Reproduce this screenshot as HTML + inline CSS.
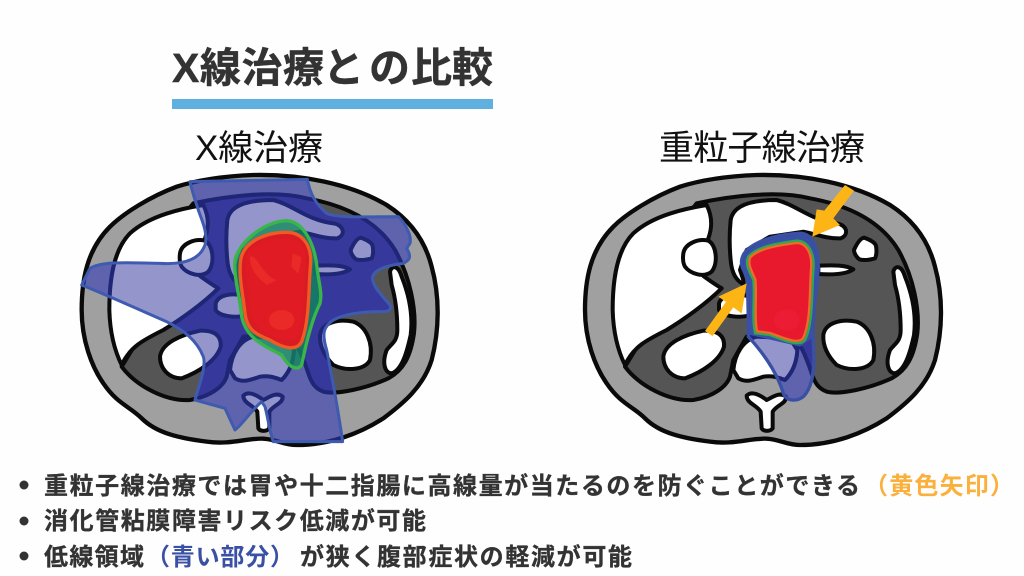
<!DOCTYPE html>
<html lang="ja">
<head>
<meta charset="utf-8">
<title>X線治療との比較</title>
<style>
html,body{margin:0;padding:0;background:#fefefe;width:1024px;height:576px;overflow:hidden}
svg{display:block}
.jp{font-family:"Liberation Sans","Noto Sans CJK JP",sans-serif}
.a-o{fill:var(--g);stroke:var(--k);stroke-width:13}
.a-d{fill:var(--d);stroke:var(--k);stroke-width:12;stroke-linejoin:round}
.a-w{fill:var(--w);stroke:var(--k);stroke-width:12;stroke-linejoin:round}
.n{--g:#a0a0a0;--d:#555555;--w:#ffffff;--k:#0a0a0a}
.o{--g:#5f62ac;--d:#36399b;--w:#9496cb;--k:#1e2675}
</style>
</head>
<body>
<svg xmlns="http://www.w3.org/2000/svg" width="1024" height="576" viewBox="0 0 1024 576">
<defs>
<g id="body">
  <path class="a-o" d="M560,15C700,12 850,40 960,105C1030,150 1075,210 1095,290C1120,380 1118,480 1095,570C1070,650 1010,700 950,745C880,790 790,825 690,825C650,825 630,808 590,806C540,804 490,825 420,815C340,805 270,790 225,745C190,710 150,700 110,640C75,590 45,510 45,420C45,330 60,240 130,170C170,130 250,80 330,50C400,28 480,18 560,15Z"/>
  <path class="a-d" d="M380,100C480,78 620,60 720,85C830,105 930,150 985,240C1030,320 1050,420 1042,490C1032,560 1010,600 965,625C900,655 810,675 770,665C745,655 735,640 725,610C715,580 705,555 695,535L640,495L530,500L490,570L480,620C470,650 430,680 370,690C300,695 210,650 165,590L220,500L300,200Z"/>
  <path class="a-w" d="M410,105C350,115 250,135 190,190C140,240 128,330 128,420C130,490 145,545 165,585C190,530 230,510 290,480C340,450 410,400 455,355C430,340 410,325 400,318L420,290L415,205C428,170 425,135 410,105Z"/>
  <path class="a-w" d="M340,250C345,220 385,205 415,212C440,225 445,280 425,305C400,325 360,310 345,290C338,278 338,265 340,250Z"/>
  <path class="a-w" d="M482,150C490,100 560,90 620,90C680,105 720,150 800,160C832,165 838,195 812,205C770,207 730,190 700,185L600,200L530,240L510,300L525,345C500,335 485,310 482,270C478,230 478,190 482,150Z"/>
  <path class="a-w" d="M447,400C455,375 490,370 520,375L540,380L540,435C510,445 460,440 447,420Z"/>
  <path class="a-w" d="M745,287C790,285 830,285 850,298C830,312 790,315 745,312Z"/>
  <path class="a-w" d="M852,240C860,222 870,205 882,203C895,208 915,215 918,228C920,240 920,255 915,265C900,270 880,272 868,268C860,262 852,250 852,240Z"/>
  <path class="a-w" d="M970,305C975,285 995,285 1005,320C1025,370 1040,430 1032,495C1020,550 1005,600 975,610C955,610 945,580 960,540C975,520 992,515 992,480C992,430 985,380 975,345Z"/>
  <path class="a-w" d="M280,560C285,520 340,495 400,482C440,480 465,495 462,530C450,570 400,605 345,625C305,625 280,595 280,560Z"/>
  <path class="a-w" d="M760,495C765,460 810,445 860,455C900,470 920,520 910,570C895,600 840,605 800,585C775,560 758,530 760,495Z"/>
  <path class="a-w" d="M490,600C495,550 520,510 560,500L660,505L682,540C680,580 665,610 645,630C630,625 610,615 580,620C555,628 530,640 505,625Z"/>
  <path class="a-w" d="M530,677C545,662 570,675 590,690C610,680 630,665 648,680C650,700 620,705 608,725L608,775C600,785 580,785 575,775L572,725C560,705 530,700 530,677Z"/>
</g>
<clipPath id="cl"><path d="M360,35L712,28C720,70 735,100 770,130C800,145 900,140 985,140C1010,165 1025,200 1020,220L1010,235C1025,260 1020,270 1000,280C960,285 915,295 908,320C905,345 930,370 960,405C965,420 960,425 930,425C880,425 830,430 790,450C760,470 755,490 770,540C790,640 810,760 818,815L610,815C600,790 595,750 585,710L575,695C545,720 520,760 495,780L465,715L375,690C385,650 410,590 400,560C380,510 340,480 290,455C210,420 110,375 35,345L60,295C100,270 200,280 270,280C350,285 390,265 405,225C415,190 395,150 385,120C375,90 365,60 360,35Z"/></clipPath>
<clipPath id="cr"><path d="M515,270C520,230 590,195 690,190C730,190 745,240 745,290C740,370 725,450 730,520C735,590 730,650 700,680C680,695 650,695 640,670C625,620 590,560 535,500C535,440 535,380 530,320C520,300 512,285 515,270Z"/></clipPath>
</defs>

<rect width="1024" height="576" fill="#fefefe"/>

<g class="jp" font-size="41" font-weight="700" fill="#333333" stroke="#333333" stroke-width=".4">
  <text x="172" y="82" textLength="152">X線治療</text>
  <text x="323" y="82">と</text>
  <text x="369" y="82">の</text>
  <text x="411" y="82" textLength="82">比較</text>
</g>
<rect x="172" y="99" width="321" height="10" fill="#5fb0de"/>

<text class="jp" x="195" y="160" font-size="35" fill="#111111" textLength="128">X線治療</text>
<text class="jp" x="659" y="160" font-size="35" fill="#111111" textLength="206">重粒子線治療</text>

<!-- left -->
<g transform="translate(70,170) scale(.33333)">
  <g class="n" transform="translate(-10,0)"><use href="#body"/></g>
  <g clip-path="url(#cl)"><g class="o" transform="translate(-10,0)"><use href="#body"/></g></g>
  <path d="M360,35L712,28C720,70 735,100 770,130C800,145 900,140 985,140C1010,165 1025,200 1020,220L1010,235C1025,260 1020,270 1000,280C960,285 915,295 908,320C905,345 930,370 960,405C965,420 960,425 930,425C880,425 830,430 790,450C760,470 755,490 770,540C790,640 810,760 818,815L610,815C600,790 595,750 585,710L575,695C545,720 520,760 495,780L465,715L375,690C385,650 410,590 400,560C380,510 340,480 290,455C210,420 110,375 35,345L60,295C100,270 200,280 270,280C350,285 390,265 405,225C415,190 395,150 385,120C375,90 365,60 360,35Z" fill="none" stroke="#3f5bb0" stroke-width="9" stroke-linejoin="round"/>
  <path d="M495,270C510,210 590,152 650,152C700,155 735,220 742,300C747,340 757,370 750,400C730,440 712,500 695,585C680,605 655,590 635,555C590,530 530,510 515,440C510,380 490,320 495,270Z" fill="#0f8a5a" fill-opacity=".75" stroke="#39b54a" stroke-width="10"/>
  <path d="M512,270C520,210 600,185 650,187C700,187 725,230 722,280C715,350 720,450 695,515C680,545 640,535 600,510C560,495 530,480 525,430C520,380 505,320 512,270Z" fill="#d91c24" stroke="#f15a24" stroke-width="10"/>
  <path d="M530,260C550,215 610,205 650,205C695,210 712,240 706,285C700,350 705,440 682,505C660,520 620,505 590,490C555,470 540,440 538,400C535,350 525,310 530,260Z" fill="#e01b24"/>
  <ellipse cx="635" cy="450" rx="38" ry="30" fill="#ea2a27"/>
  <path d="M540,260C560,250 580,320 620,330L590,345C560,320 540,300 540,260Z" fill="#ea2a27"/>
  <path d="M668,250L695,262L685,312L664,290Z" fill="#ea2a27"/>
</g>

<!-- right -->
<g transform="translate(570,170) scale(.33333)">
  <g class="n"><use href="#body"/></g>
  <g clip-path="url(#cr)"><g class="o"><use href="#body"/></g></g>
  <path d="M515,270C520,230 590,195 690,190C730,190 745,240 745,290C740,370 725,450 730,520C735,590 730,650 700,680C680,695 650,695 640,670C625,620 590,560 535,500C535,440 535,380 530,320C520,300 512,285 515,270Z" fill="none" stroke="#3a50a5" stroke-width="10" stroke-linejoin="round"/>
  <path d="M520,270C525,235 590,200 690,195C725,195 740,240 740,290C735,370 722,440 725,505L690,530L540,495C540,440 540,380 535,320C525,300 518,285 520,270Z" fill="#3a50a5"/>
  <path d="M535,260C560,230 620,220 680,212C715,212 735,250 730,300C725,370 730,460 705,510C690,530 650,515 600,495L555,490C545,440 555,380 550,330C535,300 525,280 535,260Z" fill="#e8192c" stroke="#2fa84f" stroke-width="7"/>
  <path d="M541,262C565,236 622,226 680,219C710,219 728,252 723,300C718,370 723,455 699,505C686,522 650,508 600,489L561,484C552,440 561,380 556,328C542,298 533,280 541,262Z" fill="none" stroke="#ee6a2a" stroke-width="7"/>
  <ellipse cx="650" cy="450" rx="38" ry="32" fill="#ec1c35"/>
  <path d="M852,62L825,45L763,122L740,118L727,200L810,165L790,145Z" fill="#fdb515"/>
  <path d="M405,483L428,498L490,412L515,430L530,340L445,380L468,396Z" fill="#fdb515"/>
</g>

<circle cx="24" cy="485" r="4.5" fill="#333"/>
<circle cx="24" cy="521" r="4.5" fill="#333"/>
<circle cx="24" cy="556" r="4.5" fill="#333"/>

<g class="jp" font-size="24" font-weight="700" fill="#333333" stroke-width=".3">
  <text x="44" y="494" textLength="816" stroke="#333333">重粒子線治療では胃や十二指腸に高線量が当たるのを防ぐことができる</text>
  <text x="864" y="494" textLength="150" fill="#fbb03b">（黄色矢印）</text>
  <text x="44" y="529" textLength="382" stroke="#333333">消化管粘膜障害リスク低減が可能</text>
  <text x="44" y="565" textLength="100" stroke="#333333">低線領域</text>
  <text x="146" y="565" textLength="148" fill="#3a50a5">（青い部分）</text>
  <text x="300" y="565" textLength="332" stroke="#333333">が狭く腹部症状の軽減が可能</text>
</g>
</svg>
</body>
</html>
